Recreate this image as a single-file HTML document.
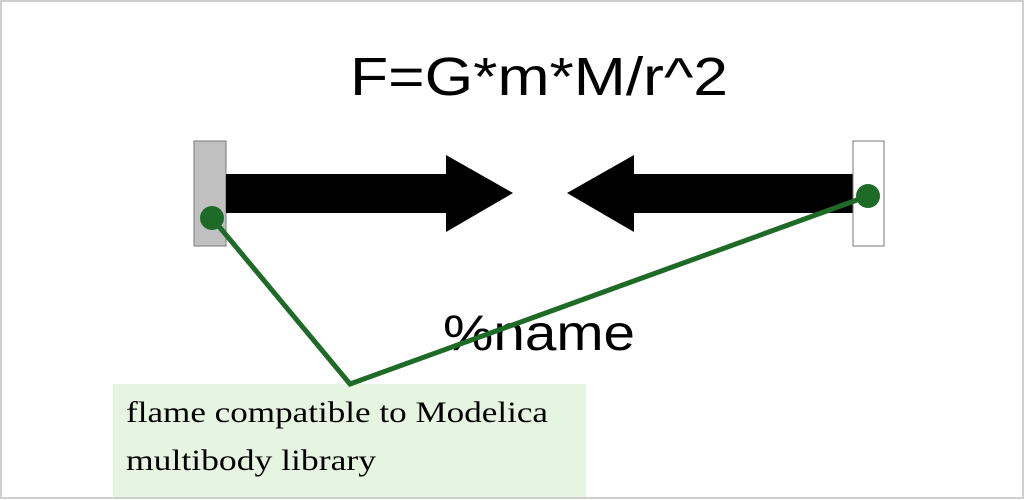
<!DOCTYPE html>
<html><head><meta charset="utf-8"><style>
html,body{margin:0;padding:0;background:#fff;}
svg{display:block;}
</style></head><body>
<svg width="1024" height="500" viewBox="0 0 1024 500" xmlns="http://www.w3.org/2000/svg">
<rect x="1" y="1" width="1022" height="497" fill="#fff" stroke="#cfcfcf" stroke-width="2"/>
<text x="350" y="95" textLength="378" lengthAdjust="spacingAndGlyphs" font-family="Liberation Sans, sans-serif" font-size="54" fill="#000">F=G*m*M/r^2</text>
<rect x="194" y="141" width="32" height="105" fill="#c0c0c0" stroke="#777" stroke-width="1"/>
<polygon points="226,174 446,174 446,155 513,193 446,232 446,213 226,213" fill="#000"/>
<polygon points="853,174 634,174 634,155 567,193 634,232 634,213 853,213" fill="#000"/>
<rect x="853" y="141" width="31" height="105" fill="#fff" stroke="#777" stroke-width="1"/>
<text x="443" y="350" textLength="192" lengthAdjust="spacingAndGlyphs" font-family="Liberation Sans, sans-serif" font-size="50" fill="#000">%name</text>
<rect x="113" y="384" width="473" height="113" fill="#e6f5e1"/>
<polyline points="212,218 350,384 868,196" fill="none" stroke="#1e6b28" stroke-width="5"/>
<circle cx="212" cy="218" r="12" fill="#1e6b28"/>
<circle cx="868" cy="196" r="12" fill="#1e6b28"/>
<text x="126" y="422" textLength="422" lengthAdjust="spacingAndGlyphs" font-family="Liberation Serif, serif" font-size="30" fill="#000">flame compatible to Modelica</text>
<text x="126" y="470" textLength="250" lengthAdjust="spacingAndGlyphs" font-family="Liberation Serif, serif" font-size="30" fill="#000">multibody library</text>
</svg>
</body></html>
